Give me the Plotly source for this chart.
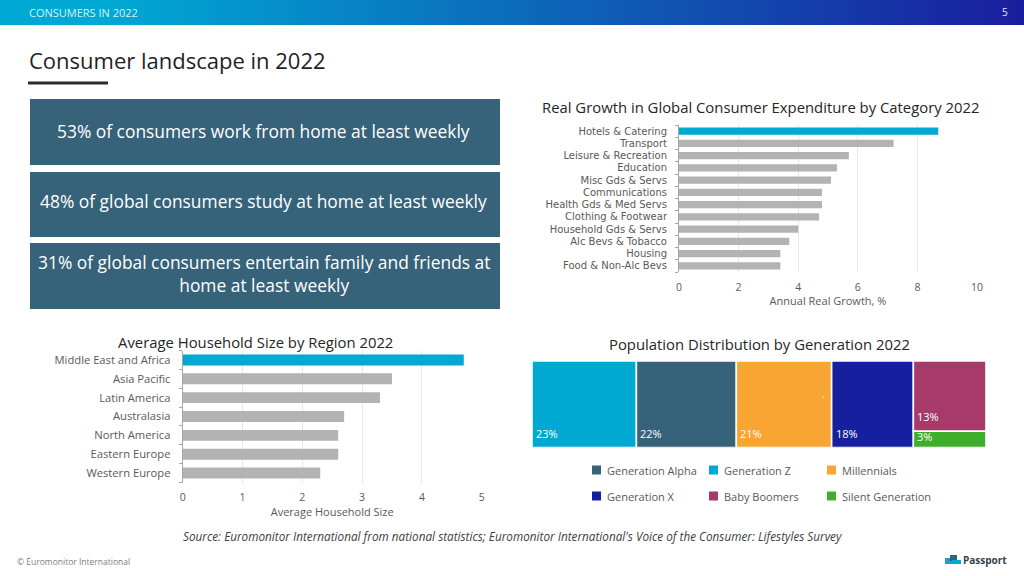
import plotly.graph_objects as go

W, H = 1024, 576
FONT = "Open Sans"
TEXT_GREY = "#595959"
TITLE_DARK = "#262626"

growth_categories = ["Hotels & Catering", "Transport", "Leisure & Recreation", "Education",
                     "Misc Gds & Servs", "Communications", "Health Gds & Med Servs",
                     "Clothing & Footwear", "Household Gds & Servs", "Alc Bevs & Tobacco",
                     "Housing", "Food & Non-Alc Bevs"]
growth_values = [8.7, 7.2, 5.7, 5.3, 5.1, 4.8, 4.8, 4.7, 4.0, 3.7, 3.4, 3.4]

region_categories = ["Middle East and Africa", "Asia Pacific", "Latin America", "Australasia",
                     "North America", "Eastern Europe", "Western Europe"]
region_values = [4.7, 3.5, 3.3, 2.7, 2.6, 2.6, 2.3]

generation_names = ["Generation Z", "Generation Alpha", "Millennials", "Generation X",
                    "Baby Boomers", "Silent Generation"]
generation_shares = [23, 22, 21, 18, 13, 3]
generation_colors = ["#00a9d1", "#36627a", "#f9a533", "#16209f", "#a63a6b", "#3fae2a"]

headline_lines = ["53% of consumers work from home at least weekly",
                  "48% of global consumers study at home at least weekly",
                  "31% of global consumers entertain family and friends at<br>home at least weekly"]


def px(x):
    return x / W


def py(y):
    return 1 - y / H


def note(text, x, y, size, color=TEXT_GREY, anchor="left", **kw):
    return dict(text=text, x=px(x), y=py(y), xref="paper", yref="paper", showarrow=False,
                xanchor=anchor, yanchor="middle", borderpad=0,
                font=dict(family=FONT, size=size, color=color), **kw)


def paper_rect(x0, y0, x1, y1, color):
    return dict(type="rect", xref="paper", yref="paper", x0=px(x0), x1=px(x1), y0=py(y0), y1=py(y1),
                fillcolor=color, line_width=0, layer="below")


fig = go.Figure()

# Bar charts
accent, grey = "#00a9d1", "#b3b3b3"
fig.add_bar(x=growth_values, y=growth_categories, orientation="h", xaxis="x", yaxis="y",
            marker=dict(color=[accent] + [grey] * (len(growth_values) - 1), line_width=0),
            showlegend=False)
fig.add_bar(x=region_values, y=region_categories, orientation="h", xaxis="x2", yaxis="y2",
            marker=dict(color=[accent] + [grey] * (len(region_values) - 1), line_width=0),
            showlegend=False)

# Treemap-like block chart: four full-height columns, then a split last column
last_col = generation_shares[4] + generation_shares[5]
annotations = []
start = 0
for i, (name, share, color) in enumerate(zip(generation_names, generation_shares, generation_colors)):
    if i < 4:
        col_w, col_x, y0, h = share, start, 0, 100
        start += share
    elif i == 4:
        col_w, col_x, y0, h = last_col, start, 100 * generation_shares[5] / last_col, 100 * share / last_col
    else:
        col_w, col_x, y0, h = last_col, start, 0, 100 * share / last_col
    fig.add_bar(x=[col_x + col_w / 2], y=[h], base=[y0], width=[col_w], xaxis="x3", yaxis="y3",
                name=name, showlegend=False,
                marker=dict(color=color, line=dict(color="white", width=1.6)))
    annotations.append(dict(text=f"{share}%", x=col_x, y=y0, xref="x3", yref="y3", showarrow=False,
                            xanchor="left", yanchor="bottom", xshift=2, yshift=2 if i == 5 else 5,
                            font=dict(family=FONT, size=11, color="white")))

shapes = []
# Header gradient band
n = 128
c0, c1 = (0, 169, 212), (26, 30, 158)
for i in range(n):
    t = i / (n - 1)
    t2 = max(0, (t - 0.1) / 0.9)
    col = tuple(round(a + (b - a) * t2) for a, b in zip(c0, c1))
    shapes.append(paper_rect(i * W / n, 0, (i + 1) * W / n + 0.5, 25, f"rgb{col}"))

# Title rule and headline boxes
shapes.append(paper_rect(28, 81.5, 108, 84.5, "#2b2b2b"))
boxes = [(99, 165), (172, 237), (243, 309)]
for (y0, y1) in boxes:
    shapes.append(paper_rect(30, y0, 500, y1, "#36627a"))

# Legend keys
legend_order = [("Generation Alpha", 592, 470), ("Generation Z", 709, 470), ("Millennials", 827, 470),
                ("Generation X", 592, 496), ("Baby Boomers", 709, 496), ("Silent Generation", 827, 496)]
for name, x, y in legend_order:
    c = generation_colors[generation_names.index(name)]
    shapes.append(paper_rect(x, y - 4.5, x + 9, y + 4.5, c))
    annotations.append(note(name, x + 14, y, 11))

# Passport logo mark
shapes.append(paper_rect(945, 558, 952, 564, "#1f9fd0"))
shapes.append(paper_rect(950, 555, 957, 561, "#36627a"))
shapes.append(paper_rect(952, 560, 961, 564, "#00a9d1"))

annotations += [
    note("CONSUMERS IN 2022", 28, 13, 11, "#d8f1f8"),
    note("5", 1005, 12, 10, "#e8e8f8", anchor="center"),
    note("Consumer landscape in 2022", 28, 59.5, 22, "#1f1f1f"),
    note(headline_lines[0], 263, 130.5, 17.4, "white", anchor="center"),
    note(headline_lines[1], 263.5, 201.5, 17.4, "white", anchor="center"),
    note(headline_lines[2], 264, 273.5, 17.4, "white", anchor="center", align="center"),
    note("Real Growth in Global Consumer Expenditure by Category 2022", 760, 107, 14.85, TITLE_DARK, anchor="center"),
    note("Average Household Size by Region 2022", 255.5, 342, 14.85, TITLE_DARK, anchor="center"),
    note("Population Distribution by Generation 2022", 759.5, 344, 14.85, TITLE_DARK, anchor="center"),
    note("<i>Source: Euromonitor International from national statistics; Euromonitor International's Voice of the Consumer: Lifestyles Survey</i>",
         512.5, 536, 11.75, "#404040", anchor="center"),
    note("© Euromonitor International", 16, 561, 8.5, "#808080"),
    note("<b>Passport</b>", 962, 560, 10, "#36424a"),
    note(".", 823, 394, 10, "white", anchor="center"),
]


def value_axis(domain, rng, dtick, title):
    return dict(domain=domain, range=rng, dtick=dtick, showgrid=True, gridcolor="#e6e6e6", gridwidth=1,
                zeroline=False, showline=False, ticks="", ticklabelstandoff=7, automargin=False,
                tickfont=dict(family=FONT, size=10.5, color=TEXT_GREY),
                title=dict(text=title, standoff=3, font=dict(family=FONT, size=11, color=TEXT_GREY)))


def cat_axis(anchor, domain, categories, family, size):
    return dict(anchor=anchor, domain=domain, autorange="reversed", type="category", automargin=False,
                tickmode="array", tickvals=categories, ticktext=categories,
                showline=True, linecolor="#a6a6a6", linewidth=1, ticks="outside", tickson="boundaries",
                ticklen=3, tickcolor="#a6a6a6", showgrid=False, ticklabelstandoff=9,
                tickfont=dict(family=family, size=size, color=TEXT_GREY))


fig.update_layout(
    width=W, height=H, autosize=False, paper_bgcolor="white", plot_bgcolor="white",
    margin=dict(l=0, r=0, t=0, b=0), bargap=0.42, barmode="overlay",
    shapes=shapes, annotations=annotations,
    xaxis=dict(anchor="y", **value_axis([px(679), px(977)], [0, 10], 2, "Annual Real Growth, %")),
    yaxis=cat_axis("x", [py(272), py(125)], growth_categories, "DejaVu Sans", 10),
    xaxis2=dict(anchor="y2", **value_axis([px(182.7), px(481.7)], [0, 5], 1, "Average Household Size")),
    yaxis2=cat_axis("x2", [py(482.5), py(350.5)], region_categories, FONT, 11.2),
    xaxis3=dict(anchor="y3", domain=[px(532), px(986)], range=[0, 100], visible=False, automargin=False),
    yaxis3=dict(anchor="x3", domain=[py(447.5), py(361)], range=[0, 100], visible=False, automargin=False),
)

fig.write_html("out.html", config={"displayModeBar": False},
               post_script="document.body.style.margin='0';document.body.style.overflow='hidden';")
